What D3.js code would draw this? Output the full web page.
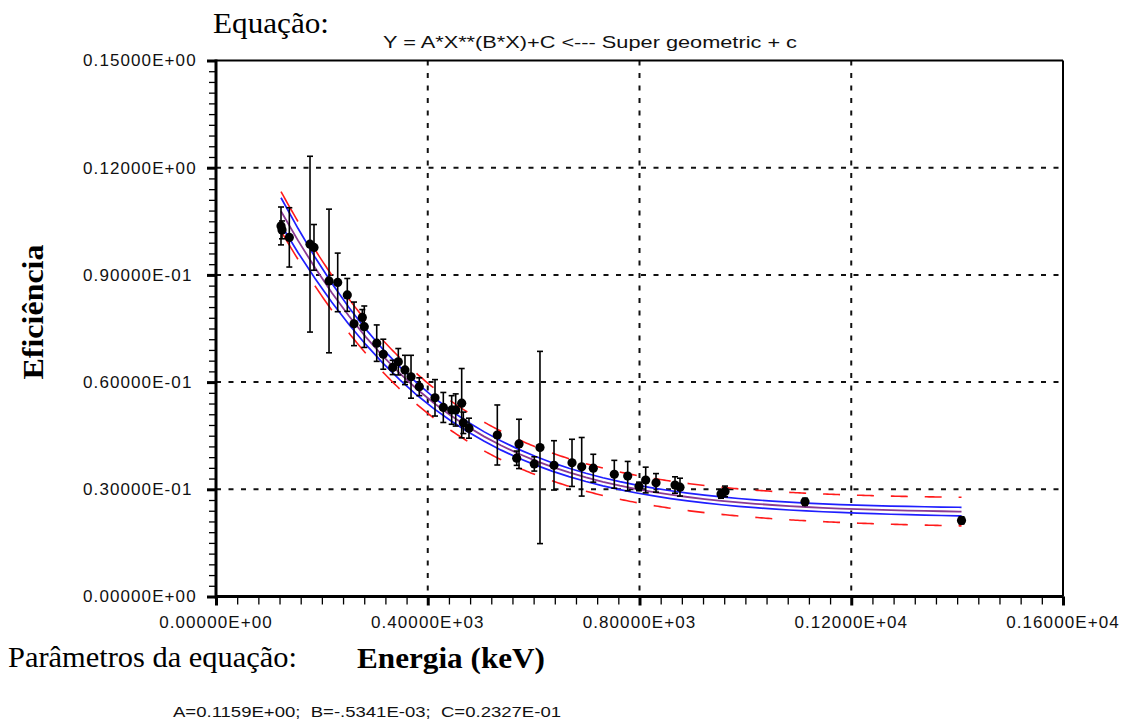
<!DOCTYPE html>
<html>
<head>
<meta charset="utf-8">
<script src="https://cdn.jsdelivr.net/npm/d3@7"></script>
<style>
  html, body { margin: 0; padding: 0; background: #fff; }
  svg { display: block; }
</style>
</head>
<body>
<script>
// Measured efficiency points (energy in keV, efficiency, 1-sigma uncertainty)
const energy = [122.8, 124.7, 138.5, 177.6, 185.1, 213.5, 229.9, 248.0, 260.7, 276.4,
  280.1, 303.6, 316.0, 333.8, 344.4, 357.0, 368.4, 384.0, 413.7, 429.4,
  445.2, 452.8, 464.1, 467.2, 477.9, 531.4, 568.0, 572.4, 601.3, 612.0,
  638.5, 672.5, 690.8, 712.7, 752.4, 777.7, 799.1, 811.7, 831.2, 867.1,
  876.5, 954.0, 961.5, 1112.6, 1408.3];
const efficiency = [0.1037, 0.1026, 0.1005, 0.0986, 0.0977, 0.0883, 0.0879, 0.0844, 0.0763, 0.0781,
  0.0755, 0.0709, 0.0678, 0.0641, 0.0657, 0.0634, 0.0615, 0.0587, 0.0556, 0.0529,
  0.0522, 0.0522, 0.0541, 0.0486, 0.0471, 0.0452, 0.0387, 0.0427, 0.0371, 0.0417,
  0.0367, 0.0374, 0.0363, 0.0359, 0.0342, 0.0337, 0.0308, 0.0326, 0.0318, 0.0312,
  0.0306, 0.0287, 0.0294, 0.0265, 0.0213];
const uncertainty = [0.0053, 0.0025, 0.0083, 0.0246, 0.0064, 0.0201, 0.0082, 0.0046, 0.0061, 0.0022,
  0.0058, 0.0051, 0.0042, 0.0020, 0.0037, 0.0041, 0.0060, 0.0025, 0.0051, 0.0042,
  0.0040, 0.0045, 0.0097, 0.0030, 0.0028, 0.0084, 0.0020, 0.0069, 0.0020, 0.0269,
  0.0069, 0.0066, 0.0082, 0.0039, 0.0039, 0.0041, 0.0012, 0.0036, 0.0026, 0.0023,
  0.0025, 0.0012, 0.0015, 0.0010, 0.0010];

// Fitted parameters of Y = A*X**(B*X)+C
const paramA = 0.1159;
const paramB = -0.5341e-3;
const paramC = 0.2327e-1;

// Half-widths of the confidence (blue) and prediction (red) bands along energy
const bandEnergy = [122, 200, 300, 450, 600, 800, 1000, 1200, 1408];
const confHalf   = [0.0038, 0.0028, 0.0020, 0.0014, 0.0012, 0.0011, 0.0011, 0.0011, 0.0012];
const predHalf   = [0.0055, 0.0050, 0.0045, 0.0041, 0.0039, 0.0038, 0.0038, 0.0039, 0.0040];

// Axis ticks and labels
const xTicks = [0, 400, 800, 1200, 1600];
const xTickLabels = ["0.00000E+00", "0.40000E+03", "0.80000E+03", "0.12000E+04", "0.16000E+04"];
const yTicks = [0, 0.03, 0.06, 0.09, 0.12, 0.15];
const yTickLabels = ["0.00000E+00", "0.30000E-01", "0.60000E-01", "0.90000E-01", "0.12000E+00", "0.15000E+00"];
const xMinorStep = 40;
const yMinorStep = 0.003;
const fitStep = 32;

const W = 1126, H = 722;
const svg = d3.select("body").append("svg").attr("width", W).attr("height", H)
  .style("font-family", "'Liberation Sans', Arial, sans-serif");
svg.append("rect").attr("width", W).attr("height", H).attr("fill", "#fff");

const x = d3.scaleLinear().domain([0, 1600]).range([216, 1063]);
const y = d3.scaleLinear().domain([0, 0.15]).range([596.5, 60.5]);

const fit = e => paramA * Math.pow(e, paramB * e) + paramC;
const conf = d3.scaleLinear().domain(bandEnergy).range(confHalf);
const pred = d3.scaleLinear().domain(bandEnergy).range(predHalf);

// Grid
const grid = svg.append("g").attr("stroke", "#111").attr("stroke-width", 2).attr("stroke-dasharray", "5,7.5");
grid.selectAll("line.v").data(xTicks.slice(1, -1)).join("line")
  .attr("x1", d => x(d)).attr("x2", d => x(d)).attr("y1", y(0.15)).attr("y2", y(0));
grid.selectAll("line.h").data(yTicks.slice(1, -1)).join("line")
  .attr("y1", d => y(d)).attr("y2", d => y(d)).attr("x1", x(0)).attr("x2", x(1600));

// Frame (top and right)
svg.append("line").attr("x1", x(0)).attr("x2", x(1600)).attr("y1", y(0.15)).attr("y2", y(0.15))
  .attr("stroke", "#000").attr("stroke-width", 2);
svg.append("line").attr("x1", x(1600)).attr("x2", x(1600)).attr("y1", y(0.15)).attr("y2", y(0))
  .attr("stroke", "#000").attr("stroke-width", 2);

// Fit curve and bands
const eMin = d3.min(energy), eMax = d3.max(energy);
const nodes = d3.range(eMin, eMax, fitStep).concat([eMax]);
const line = (off) => d3.line().x(e => x(e)).y(e => y(fit(e) + off(e)));

const curves = svg.append("g").attr("fill", "none");
curves.append("path").datum(nodes).attr("d", line(e => conf(e)))
  .attr("stroke", "#1f1fff").attr("stroke-width", 1.7);
curves.append("path").datum(nodes).attr("d", line(e => -conf(e)))
  .attr("stroke", "#1f1fff").attr("stroke-width", 1.7);
curves.append("path").datum(nodes).attr("d", line(e => 0))
  .attr("stroke", "#8a3a94").attr("stroke-width", 1.8);

// Prediction band drawn as alternating dashes between fit nodes
const dashes = [];
for (let i = 0; i + 1 < nodes.length; i += 2) {
  const a = nodes[i], b = nodes[i + 1];
  const pts = d3.range(0, 1.0001, 0.125).map(t => a + (b - a) * t);
  dashes.push({ pts, sign: 1 }, { pts, sign: -1 });
}
curves.selectAll("path.pred").data(dashes).join("path")
  .attr("class", "pred")
  .attr("d", d => line(e => d.sign * pred(e))(d.pts))
  .attr("stroke", "#ff1a1a").attr("stroke-width", 1.6);

// Error bars and points
const pts = energy.map((e, i) => ({ e, v: efficiency[i], u: uncertainty[i] }));
const eb = svg.append("g").attr("stroke", "#000").attr("stroke-width", 1.6);
eb.selectAll("line.bar").data(pts).join("line")
  .attr("x1", d => x(d.e)).attr("x2", d => x(d.e))
  .attr("y1", d => y(d.v - d.u)).attr("y2", d => y(d.v + d.u));
eb.selectAll("line.top").data(pts).join("line")
  .attr("x1", d => x(d.e) - 3).attr("x2", d => x(d.e) + 3)
  .attr("y1", d => y(d.v + d.u)).attr("y2", d => y(d.v + d.u));
eb.selectAll("line.bot").data(pts).join("line")
  .attr("x1", d => x(d.e) - 3).attr("x2", d => x(d.e) + 3)
  .attr("y1", d => y(d.v - d.u)).attr("y2", d => y(d.v - d.u));
svg.append("g").selectAll("circle").data(pts).join("circle")
  .attr("cx", d => x(d.e)).attr("cy", d => y(d.v)).attr("r", 4.6).attr("fill", "#000");

// Axes: minor and major ticks
const xMinor = d3.range(0, 1600 + 1e-9, xMinorStep);
const yMinor = d3.range(0, 0.15 + 1e-9, yMinorStep);
function styleAxis(g, w) {
  g.select(".domain").remove();
  g.selectAll(".tick line").attr("stroke", "#000").attr("stroke-width", w);
  g.selectAll(".tick text").remove();
}
svg.append("g").attr("transform", `translate(0,${y(0)})`)
  .call(d3.axisBottom(x).tickValues(xMinor).tickSize(8).tickFormat(""))
  .call(g => styleAxis(g, 1.3));
svg.append("g").attr("transform", `translate(0,${y(0)})`)
  .call(d3.axisBottom(x).tickValues(xTicks).tickSize(9).tickFormat(""))
  .call(g => styleAxis(g, 3));
svg.append("g").attr("transform", `translate(${x(0)},0)`)
  .call(d3.axisLeft(y).tickValues(yMinor).tickSize(7).tickFormat(""))
  .call(g => styleAxis(g, 1.3));
svg.append("g").attr("transform", `translate(${x(0)},0)`)
  .call(d3.axisLeft(y).tickValues(yTicks).tickSize(9).tickFormat(""))
  .call(g => styleAxis(g, 3));
svg.append("line").attr("x1", x(0)).attr("x2", x(1600)).attr("y1", y(0)).attr("y2", y(0))
  .attr("stroke", "#000").attr("stroke-width", 3);
svg.append("line").attr("x1", x(0)).attr("x2", x(0)).attr("y1", y(0.15) - 1).attr("y2", y(0) + 2)
  .attr("stroke", "#000").attr("stroke-width", 3);

// Tick labels
svg.append("g").selectAll("text").data(yTicks).join("text")
  .attr("x", 83).attr("y", d => y(d)).attr("dy", "0.35em")
  .attr("font-size", 17).attr("letter-spacing", 1.1).attr("fill", "#111")
  .text((d, i) => yTickLabels[i]);
svg.append("g").selectAll("text").data(xTicks).join("text")
  .attr("x", d => x(d)).attr("y", 622).attr("dy", "0.35em").attr("text-anchor", "middle")
  .attr("font-size", 17).attr("letter-spacing", 1.1).attr("fill", "#111")
  .text((d, i) => xTickLabels[i]);

// Titles and annotations
const serif = "'Liberation Serif', 'Times New Roman', serif";
svg.append("text").attr("x", 213).attr("y", 33).attr("font-family", serif).attr("font-size", 29)
  .attr("textLength", 116).attr("lengthAdjust", "spacingAndGlyphs").text("Equação:");
svg.append("text").attr("x", 383).attr("y", 42).attr("dy", "0.35em").attr("font-size", 17)
  .attr("textLength", 414).attr("lengthAdjust", "spacingAndGlyphs").attr("fill", "#111")
  .text("Y = A*X**(B*X)+C <--- Super geometric + c");
svg.append("text").attr("x", 8).attr("y", 667).attr("font-family", serif).attr("font-size", 29)
  .attr("textLength", 289).attr("lengthAdjust", "spacingAndGlyphs").text("Parâmetros da equação:");
svg.append("text").attr("x", 357).attr("y", 668).attr("font-family", serif).attr("font-size", 29)
  .attr("font-weight", "bold").attr("textLength", 188).attr("lengthAdjust", "spacingAndGlyphs")
  .text("Energia (keV)");
svg.append("text").attr("transform", "translate(43,312) rotate(-90)").attr("text-anchor", "middle")
  .attr("font-family", serif).attr("font-size", 29).attr("font-weight", "bold")
  .attr("textLength", 135).attr("lengthAdjust", "spacingAndGlyphs").text("Eficiência");
svg.append("text").attr("x", 173).attr("y", 712).attr("dy", "0.35em").attr("font-size", 15)
  .style("white-space", "pre").attr("textLength", 388).attr("lengthAdjust", "spacingAndGlyphs")
  .attr("fill", "#111").text("A=0.1159E+00;  B=-.5341E-03;  C=0.2327E-01");
</script>
</body>
</html>
